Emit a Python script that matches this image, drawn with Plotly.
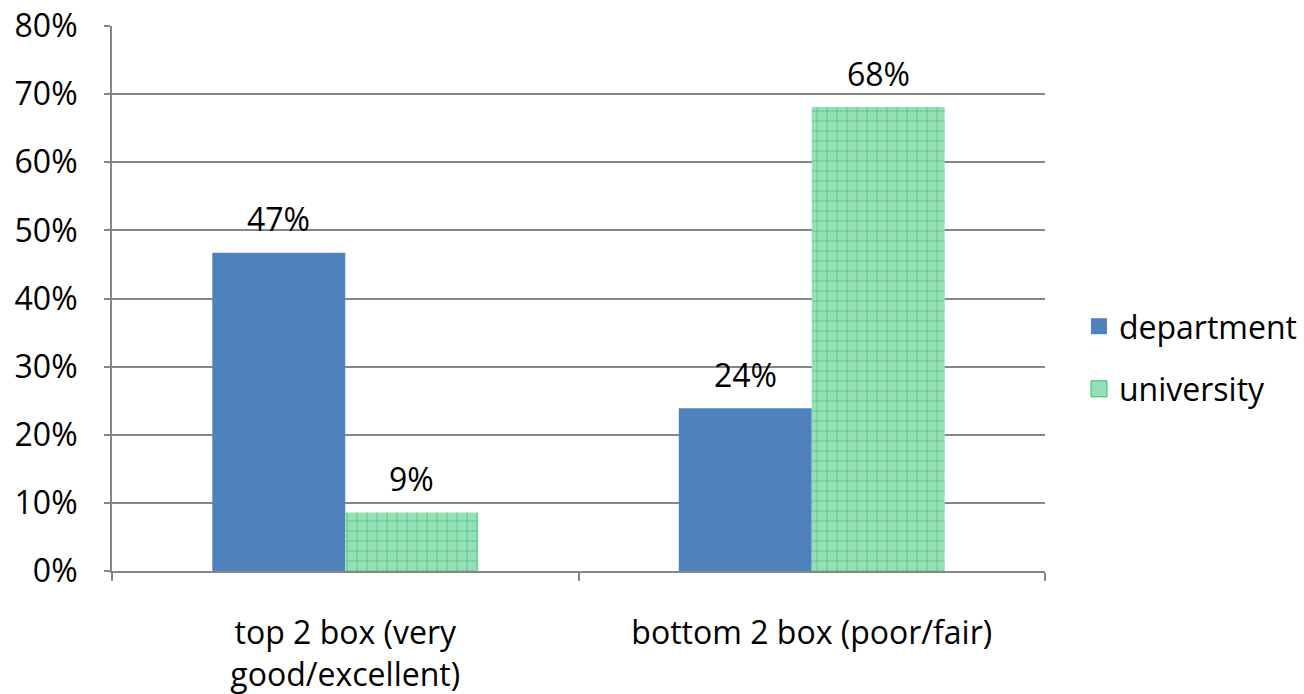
import plotly.graph_objects as go

categories = ["top 2 box (very<br>good/excellent)", "bottom 2 box (poor/fair)"]
department = [0.467, 0.239]
university = [0.086, 0.681]
y_ticks = [0, 0.1, 0.2, 0.3, 0.4, 0.5, 0.6, 0.7, 0.8]

FONT = "Open Sans"
FS = 32
GRID = "#868686"
BLUE = "#4f81bd"
GREEN_BG = "#97dfb6"
GREEN_FG = "#2fbf6c"

fig = go.Figure()
fig.add_trace(go.Bar(
    name="department", x=categories, y=department,
    marker=dict(color=BLUE, line=dict(width=0)),
    showlegend=False,
))
fig.add_trace(go.Bar(
    name="university", x=categories, y=university,
    marker=dict(color=GREEN_BG, line=dict(width=0),
                pattern=dict(shape="+", fgcolor=GREEN_FG, bgcolor=GREEN_BG,
                             size=10, solidity=0.12, fillmode="replace")),
    showlegend=False,
))

# legend entries with larger square symbols
fig.add_trace(go.Scatter(
    name="department", x=[None], y=[None], mode="markers",
    marker=dict(symbol="square", size=20, color=BLUE),
    legendgroup="a",
))
fig.add_trace(go.Scatter(
    name="university", x=[None], y=[None], mode="markers",
    marker=dict(symbol="square", size=20, color=GREEN_BG,
                line=dict(color=GREEN_FG, width=1)),
    legendgroup="b",
))

# value labels above bars
for series, shift in ((department, -66.5), (university, 66.5)):
    for cat, val in zip(categories, series):
        fig.add_annotation(
            x=cat, y=val, xref="x", yref="y",
            text=f"{val * 100:.0f}%", showarrow=False,
            xanchor="center", yanchor="middle",
            xshift=shift, yshift=34,
            font=dict(size=FS, family=FONT, color="black"),
        )

fig.update_layout(
    width=1304, height=694,
    margin=dict(l=112, r=259, t=26, b=123, autoexpand=False),
    paper_bgcolor="white", plot_bgcolor="white",
    barmode="group", bargap=0.43, bargroupgap=0,
    font=dict(family=FONT, size=FS, color="black"),
    showlegend=True,
    legend=dict(x=1.0364, xanchor="left", y=0.391, yanchor="middle",
                font=dict(size=FS, family=FONT), tracegroupgap=18,
                itemwidth=30, bgcolor="rgba(0,0,0,0)"),
    xaxis=dict(showline=True, linecolor=GRID, linewidth=2,
               ticks="outside", tickson="boundaries", ticklen=8,
               tickcolor=GRID, tickwidth=2, ticklabelstandoff=33,
               tickfont=dict(size=FS, family=FONT)),
    yaxis=dict(range=[0, 0.8], tickvals=y_ticks, tickformat=".0%",
               showgrid=True, gridcolor=GRID, gridwidth=1.5,
               showline=True, linecolor=GRID, linewidth=2,
               ticks="outside", ticklen=6, tickcolor=GRID, tickwidth=2,
               zeroline=False, ticklabelstandoff=20,
               tickfont=dict(size=FS, family=FONT)),
)

fig.write_html("out.html")
